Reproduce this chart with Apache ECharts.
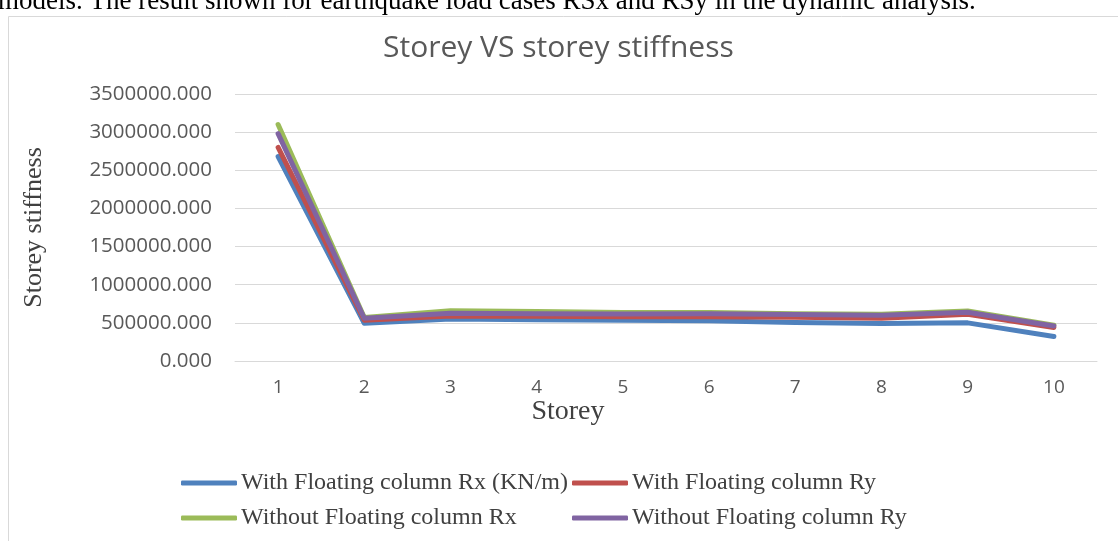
<!DOCTYPE html>
<html>
<head>
<meta charset="utf-8">
<script src="https://cdn.jsdelivr.net/npm/echarts@6/dist/echarts.min.js"></script>
<style>html,body{margin:0;padding:0;background:#fff;}#c{width:1118px;height:541px;}</style>
</head>
<body>
<div id="c"></div>
<script>
const storeys = ['1','2','3','4','5','6','7','8','9','10'];
const seriesNames = ['With Floating column Rx (KN/m)','With Floating column Ry','Without Floating column Rx','Without Floating column Ry'];
const withRx    = [2680000, 495000, 550000, 540000, 535000, 527000, 505000, 490000, 500000, 320000];
const withRy    = [2800000, 535000, 590000, 585000, 580000, 580000, 575000, 560000, 614000, 440000];
const withoutRx = [3100000, 570000, 660000, 650000, 635000, 635000, 620000, 614000, 657000, 470000];
const withoutRy = [2980000, 560000, 625000, 620000, 615000, 620000, 610000, 600000, 640000, 460000];
const yTicks = {min: 0, max: 3500000, interval: 500000};
const colors = ['#4F81BD','#C0504D','#9BBB59','#8064A2'];
const values = [withRx, withRy, withoutRx, withoutRy];

const chart = echarts.init(document.getElementById('c'));
const legendPos = [[181,471],[572,471],[181,506],[572,506]];
const option = {
  animation: false,
  backgroundColor: '#fff',
  title: {
    text: 'Storey VS storey stiffness',
    left: 378, top: 28,
    textStyle: {fontFamily: 'Open Sans', fontSize: 30, fontWeight: 'normal', color: '#595959'}
  },
  graphic: [
    {type: 'rect', z: -10, shape: {x: 8.5, y: 16.5, width: 1300, height: 700}, style: {fill: 'none', stroke: '#d9d9d9', lineWidth: 1}},
    {type: 'text', x: -2, y: 15, style: {text: 'models. The result shown for earthquake load cases RSx and RSy in the dynamic analysis.', font: '27px "Liberation Serif"', fill: '#000', verticalAlign: 'bottom'}}
  ],
  legend: seriesNames.map((n, i) => ({
    data: [n], left: legendPos[i][0], top: legendPos[i][1], padding: 0,
    icon: 'roundRect', itemWidth: 56, itemHeight: 5,
    textStyle: {fontFamily: 'Liberation Serif', fontSize: 24, color: '#404040', padding: [0,0,0,-1]}
  })),
  grid: {left: 235, right: 21, top: 94, bottom: 180},
  xAxis: {
    type: 'category', data: storeys, boundaryGap: true,
    name: 'Storey', nameLocation: 'middle', nameGap: 36,
    nameTextStyle: {fontFamily: 'Liberation Serif', fontSize: 28, color: '#404040', padding: [0, 196, 0, 0]},
    axisLine: {show: true, lineStyle: {color: '#d9d9d9'}},
    axisTick: {show: false},
    axisLabel: {fontFamily: 'Open Sans', fontSize: 19, color: '#595959', margin: 17}
  },
  yAxis: {
    type: 'value', min: yTicks.min, max: yTicks.max, interval: yTicks.interval,
    name: 'Storey stiffness', nameLocation: 'middle', nameGap: 188,
    nameTextStyle: {fontFamily: 'Liberation Serif', fontSize: 26, color: '#404040'},
    axisLine: {show: false}, axisTick: {show: false},
    splitLine: {lineStyle: {color: '#d9d9d9', width: 1}},
    axisLabel: {fontFamily: 'Open Sans', fontSize: 20.5, color: '#595959', margin: 23,
      formatter: v => v.toFixed(3)}
  },
  series: seriesNames.map((n, i) => ({
    name: n, type: 'line', data: values[i], symbol: 'none',
    color: colors[i],
    lineStyle: {width: 5, color: colors[i], cap: 'round', join: 'round'},
    z: 2 + i
  }))
};
chart.setOption(option);
</script>
</body>
</html>
